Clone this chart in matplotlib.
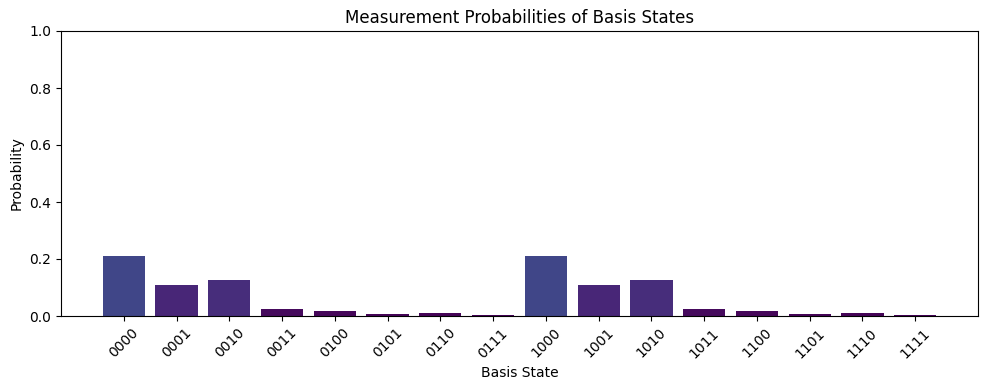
import matplotlib
matplotlib.use("Agg")
import matplotlib.pyplot as plt
import numpy as np

states = ["0000", "0001", "0010", "0011", "0100", "0101", "0110", "0111",
          "1000", "1001", "1010", "1011", "1100", "1101", "1110", "1111"]
probs = [0.210, 0.108, 0.126, 0.025, 0.018, 0.008, 0.011, 0.004,
         0.210, 0.108, 0.126, 0.025, 0.018, 0.008, 0.011, 0.004]

fig, ax = plt.subplots(figsize=(9.89, 3.9), dpi=100)
colors = plt.cm.viridis(np.array(probs))
ax.bar(states, probs, color=colors)
ax.set_ylim(0, 1)
ax.set_xlabel("Basis State")
ax.set_ylabel("Probability")
ax.set_title("Measurement Probabilities of Basis States")
plt.setp(ax.get_xticklabels(), rotation=45)
fig.subplots_adjust(left=61/989, right=978/989, top=1-31/390, bottom=1-316/390)
fig.savefig("out.png", dpi=100)
